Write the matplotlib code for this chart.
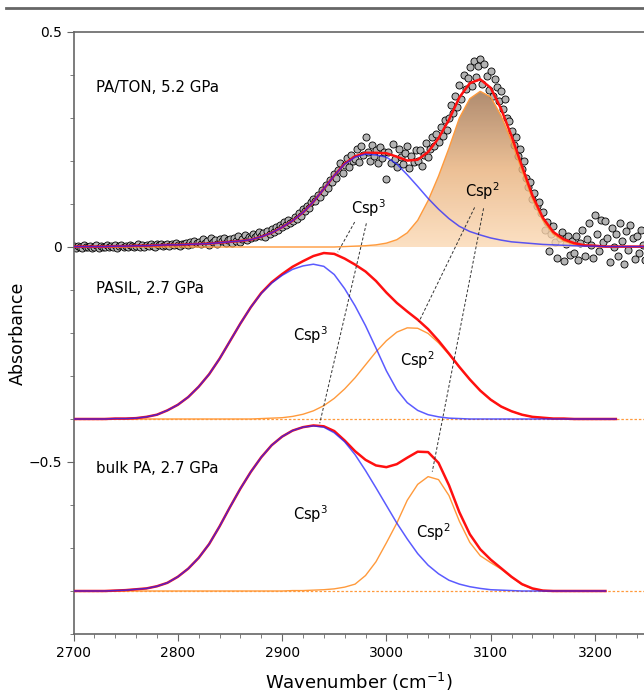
import numpy as np
import matplotlib.pyplot as plt
from matplotlib.colors import LinearSegmentedColormap
from matplotlib.lines import Line2D
from matplotlib.ticker import MultipleLocator, FixedLocator

# === data ===
# fitted components, sampled every 10 cm-1
wn_ton = np.arange(2700, 3251, 10)
wn_pasil = np.arange(2700, 3221, 10)
wn_bulk = np.arange(2700, 3211, 10)

ton_csp3 = [.001, .001, .001, .001, .002, .002, .003, .003, .004, .005,
            .005, .006, .007, .008, .010, .012, .014, .017, .024, .033,
            .046, .061, .080, .105, .135, .166, .193, .209, .216, .214,
            .209, .193, .168, .141, .113, .088, .066, .048, .036, .028,
            .021, .016, .012, .010, .008, .006, .005, .004, .003, .002,
            .002, .001, .001, .001, .001, .001]
ton_csp2 = [0, 0, 0, 0, 0, 0, 0, 0, 0, 0,
            0, 0, 0, 0, 0, 0, 0, 0, 0, 0,
            0, 0, 0, 0, 0, 0, .001, .002, .003, .005,
            .009, .017, .033, .062, .108, .165, .230, .300, .345, .362,
            .349, .305, .246, .178, .112, .062, .030, .014, .006, .002,
            .001, 0, 0, 0, 0, 0]

pasil_csp3 = [0, 0, 0, 0, .001, .001, .002, .005, .010, .020,
              .033, .051, .075, .104, .140, .181, .222, .260, .292, .316,
              .334, .348, .356, .360, .355, .336, .303, .263, .217, .165,
              .112, .068, .038, .020, .010, .005, .002, .001, 0, 0,
              0, 0, 0, 0, 0, 0, 0, 0, 0, 0,
              0, 0, 0]
pasil_csp2 = [0, 0, 0, 0, 0, 0, 0, 0, 0, 0,
              0, 0, 0, 0, 0, 0, 0, 0, .001, .002,
              .003, .006, .011, .019, .031, .048, .070, .096, .126, .156,
              .182, .202, .212, .211, .199, .177, .150, .120, .092, .066,
              .045, .029, .018, .010, .005, .003, .001, .001, 0, 0,
              0, 0, 0]

bulk_csp3 = [0, 0, 0, 0, .001, .002, .004, .006, .011, .019,
             .033, .052, .077, .109, .150, .195, .238, .277, .311, .339,
             .359, .373, .381, .384, .381, .368, .347, .317, .280, .240,
             .199, .158, .121, .087, .060, .040, .025, .016, .010, .006,
             .003, .002, .001, 0, 0, 0, 0, 0, 0, 0,
             0, 0]
bulk_csp2 = [0, 0, 0, 0, 0, 0, 0, 0, 0, 0,
             0, 0, 0, 0, 0, 0, 0, 0, 0, 0,
             0, .001, .001, .002, .003, .005, .009, .016, .036, .068,
             .112, .158, .211, .248, .266, .259, .222, .162, .113, .082,
             .066, .051, .032, .015, .005, .001, 0, 0, 0, 0,
             0, 0]
bulk_fit = [0, 0, 0, 0, .001, .002, .004, .006, .011, .019,
            .033, .052, .077, .109, .150, .195, .238, .277, .311, .339,
            .359, .373, .381, .385, .383, .372, .350, .325, .305, .292,
            .288, .295, .310, .324, .323, .298, .246, .183, .132, .097,
            .073, .053, .033, .016, .006, .001, 0, 0, 0, 0,
            0, 0]

# measured PA/TON spectrum, every 2 cm-1
wn_pts = np.arange(2700, 3250, 2)
ton_pts = [0.002, -0.002, 0.003, 0.000, -0.003, 0.004, 0.001, -0.001, 0.003, -0.002, 0.000, 0.004, -0.002, 0.002, 0.001,
           0.001, 0.004, -0.001, 0.003, 0.000, 0.005, -0.002, 0.002, 0.004, 0.000, 0.003, -0.001, 0.005, 0.002, 0.000,
           0.003, 0.006, 0.001, 0.004, -0.001, 0.005, 0.002, 0.007, 0.003, 0.001, 0.006, 0.004, 0.008, 0.002, 0.005,
           0.006, 0.003, 0.008, 0.004, 0.009, 0.005, 0.002, 0.008, 0.006, 0.010, 0.004, 0.011, 0.007, 0.013, 0.009,
           0.012, 0.006, 0.018, 0.009, 0.015, 0.004, 0.020, 0.011, 0.016, 0.008, 0.019, 0.013, 0.022, 0.010, 0.017,
           0.018, 0.010, 0.022, 0.014, 0.026, 0.012, 0.019, 0.028, 0.016, 0.024, 0.020, 0.031, 0.023, 0.027, 0.034,
           0.026, 0.033, 0.024, 0.038, 0.030, 0.042, 0.036, 0.046, 0.040, 0.052, 0.047, 0.058, 0.050, 0.062, 0.056,
           0.060, 0.070, 0.064, 0.079, 0.072, 0.088, 0.083, 0.096, 0.091, 0.104, 0.112, 0.106, 0.121, 0.116, 0.132,
           0.128, 0.145, 0.138, 0.156, 0.150, 0.170, 0.160, 0.178, 0.195, 0.172, 0.190, 0.208, 0.186, 0.215, 0.200,
           0.205, 0.228, 0.198, 0.235, 0.215, 0.256, 0.220, 0.200, 0.238, 0.212, 0.226, 0.195, 0.232, 0.207, 0.220,
           0.158, 0.222, 0.196, 0.240, 0.205, 0.186, 0.228, 0.210, 0.192, 0.218, 0.235, 0.184, 0.212, 0.198, 0.225,
           0.200, 0.225, 0.188, 0.215, 0.242, 0.210, 0.228, 0.255, 0.236, 0.262, 0.245, 0.280, 0.258, 0.295, 0.272,
           0.300, 0.330, 0.312, 0.352, 0.325, 0.376, 0.345, 0.400, 0.368, 0.392, 0.418, 0.375, 0.432, 0.395, 0.420,
           0.438, 0.380, 0.425, 0.398, 0.365, 0.410, 0.352, 0.390, 0.372, 0.340, 0.362, 0.320, 0.345, 0.300, 0.292,
           0.270, 0.238, 0.255, 0.212, 0.228, 0.182, 0.200, 0.160, 0.140, 0.152, 0.112, 0.125, 0.095, 0.104, 0.078,
           0.082, 0.040, 0.058, -0.010, 0.030, 0.048, 0.012, -0.025, 0.020, 0.035, -0.032, 0.008, 0.025, -0.018, 0.015,
           -0.015, 0.025, -0.030, 0.010, 0.040, -0.020, 0.018, 0.055, 0.005, -0.025, 0.075, 0.030, -0.010, 0.062, 0.012,
           0.060, 0.020, -0.035, 0.045, 0.000, 0.030, -0.020, 0.055, 0.015, -0.040, 0.038, -0.008, 0.050, 0.022, -0.028,
           0.025, -0.015, 0.040, 0.005, -0.030]

offsets = [0, -0.4, -0.8]
panel_names = ['PA/TON, 5.2 GPa', 'PASIL, 2.7 GPa', 'bulk PA, 2.7 GPa']
panel_label_y = [0.37, -0.096, -0.514]

# peak labels (x, y, text)
csp_labels = [(2983, 0.091, 'Csp$^3$'), (3092, 0.130, 'Csp$^2$'),
              (2927, -0.205, 'Csp$^3$'), (3030, -0.263, 'Csp$^2$'),
              (2927, -0.621, 'Csp$^3$'), (3045, -0.663, 'Csp$^2$')]
# dashed leader lines ((x0, y0), (x1, y1))
leaders = [((2969.6, 0.058), (2953.4, -0.012)),
           ((2980.8, 0.055), (2936.1, -0.410)),
           ((3084.6, 0.092), (3031.2, -0.174)),
           ((3093.2, 0.090), (3044.0, -0.5225))]

# === plot ===
RED = '#ff1010'
BLUE = '#2424ff'
ORANGE = '#ff9a3c'

fig = plt.figure(figsize=(6.44, 6.98), dpi=100)
ax = fig.add_axes([73.5 / 644, 1 - 634 / 698, 1 - 73.5 / 644, (634 - 32) / 698])

# PA/TON panel
ton_csp3 = np.array(ton_csp3)
ton_csp2 = np.array(ton_csp2)
ton_fit = ton_csp3 + ton_csp2
ax.scatter(wn_pts, ton_pts, s=26, facecolor='#b4b4b4', edgecolor='black',
           linewidth=0.6, zorder=2)
poly = ax.fill_between(wn_ton, 0, ton_csp2, facecolor='none', edgecolor='none')
cmap = LinearSegmentedColormap.from_list('csp2', ['#fcdab6', '#e8b27e', '#9e7250'])
grad = np.linspace(0, 1, 256).reshape(-1, 1)
im = ax.imshow(grad, extent=[2700, 3250, 0, 0.365], origin='lower', cmap=cmap,
               aspect='auto', alpha=0.82, zorder=3)
im.set_clip_path(poly.get_paths()[0], transform=ax.transData)
ax.plot(wn_ton, ton_csp2, color=ORANGE, lw=1.0, zorder=4)
ax.plot(wn_ton, ton_fit, color=RED, lw=1.8, zorder=5)
ax.plot(wn_ton, ton_csp3, color=BLUE, lw=1.1, alpha=0.75, zorder=6)

# PASIL and bulk panels
pasil_fit = np.array(pasil_csp3) + np.array(pasil_csp2)
for wn, c3, c2, fit, off in [(wn_pasil, pasil_csp3, pasil_csp2, pasil_fit, offsets[1]),
                             (wn_bulk, bulk_csp3, bulk_csp2, bulk_fit, offsets[2])]:
    ax.axhline(off, color=ORANGE, lw=0.9, ls=(0, (2, 1.5)), zorder=1)
    ax.plot(wn, np.array(c2) + off, color=ORANGE, lw=1.0, zorder=4)
    ax.plot(wn, np.array(fit) + off, color=RED, lw=1.8, zorder=5)
    ax.plot(wn, np.array(c3) + off, color=BLUE, lw=1.1, alpha=0.75, zorder=6)

for name, y in zip(panel_names, panel_label_y):
    ax.text(2722, y, name, fontsize=10.8, va='center', ha='left')
for x, y, t in csp_labels:
    ax.text(x, y, t, fontsize=10.5, va='center', ha='center', zorder=8)
for (x0, y0), (x1, y1) in leaders:
    ax.plot([x0, x1], [y0, y1], color='#333333', lw=0.7, ls=(0, (3, 2)), zorder=7)

ax.set_xlim(2700, 3247)
ax.set_ylim(-0.9, 0.5)
ax.spines['right'].set_visible(False)
for s in ['left', 'bottom', 'top']:
    ax.spines[s].set_color('#666666')
    ax.spines[s].set_linewidth(1.2)
ax.xaxis.set_major_locator(MultipleLocator(100))
ax.xaxis.set_minor_locator(MultipleLocator(20))
ax.yaxis.set_major_locator(FixedLocator([-0.5, 0, 0.5]))
ax.yaxis.set_minor_locator(MultipleLocator(0.1))
ax.set_yticklabels(['\u22120.5', '0', '0.5'])
ax.tick_params(which='both', direction='out', color='#666666', labelsize=10,
               top=False, right=False)
ax.tick_params(which='major', length=5)
ax.tick_params(which='minor', length=3)
ax.set_xlabel('Wavenumber (cm$^{-1}$)', fontsize=13, labelpad=8)
ax.set_ylabel('Absorbance', fontsize=12.5)
ax.yaxis.set_label_coords(-0.082, 0.5)

fig.add_artist(Line2D([0.01, 1.0], [1 - 8 / 698] * 2, transform=fig.transFigure,
                      color='#666666', lw=2))

fig.savefig('out.png', dpi=100)
